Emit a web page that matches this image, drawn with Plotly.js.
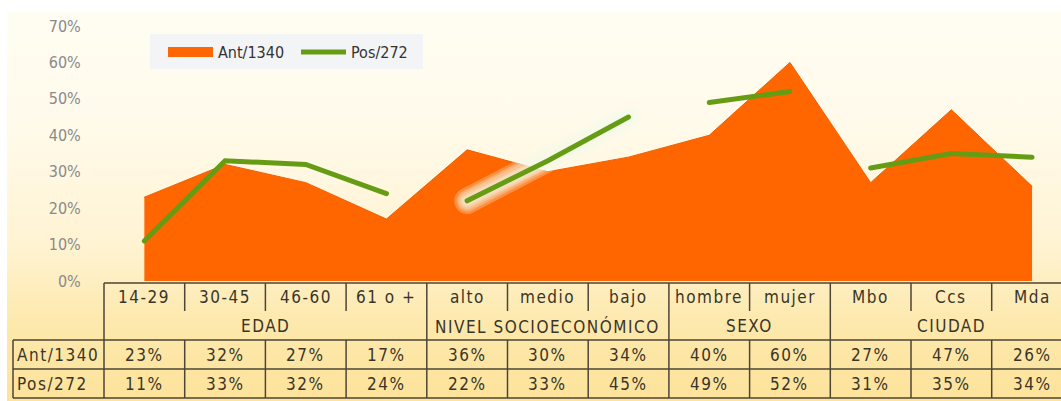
<!DOCTYPE html>
<html>
<head>
<meta charset="utf-8">
<script src="https://cdn.plot.ly/plotly-3.0.1.min.js"></script>
<style>
  html, body { margin: 0; padding: 0; background: #ffffff; }
  #wrap { position: relative; width: 1061px; height: 401px; overflow: hidden; }
  #bg { position: absolute; left: 7px; top: 12px; right: 0; bottom: 0;
        background: linear-gradient(to bottom, #fffdf3 0%, #fffaea 30%, #fff3d2 60%, #fde9ad 80%, #fde39b 100%); }
  #chart { position: absolute; left: 0; top: 0; width: 1061px; height: 401px; }
  .annotation-text { letter-spacing: 1.5px; }
  .scatterlayer .js-line { stroke-linecap: round; }
</style>
</head>
<body>
<div id="wrap"><div id="bg"></div><div id="chart"></div></div>
<script>
// ---- data ----
const categories = ["14-29", "30-45", "46-60", "61 o +", "alto", "medio", "bajo", "hombre", "mujer", "Mbo", "Ccs", "Mda"];
const groupNames = ["EDAD", "NIVEL SOCIOECONÓMICO", "SEXO", "CIUDAD"];
const groupSizes = [4, 3, 2, 3];
const seriesNames = ["Ant/1340", "Pos/272"];
const antValues = [23, 32, 27, 17, 36, 30, 34, 40, 60, 27, 47, 26];
const posValues = [11, 33, 32, 24, 22, 33, 45, 49, 52, 31, 35, 34];
const yTicks = [0, 10, 20, 30, 40, 50, 60, 70];

// ---- layout geometry ----
const W = 1061, H = 401;
const mL = 104, mR = 0, mT = 26, mB = 120;
const plotW = W - mL - mR, plotH = H - mT - mB;
const colPx = 80.7;
const xr0 = -0.5, xr1 = -0.5 + plotW / colPx;
const FONT = "'Liberation Sans Narrow', 'Arial Narrow', 'DejaVu Sans Condensed', sans-serif";
const textColor = '#3a3528';
const gridColor = '#4d4535';
const antColor = '#ff6600';
const posColor = '#659c14';

function py(p) { return (H - mB - p) / plotH; }           // pixel y -> paper y
function pxFromData(v) { return (v - xr0) / (xr1 - xr0); } // data x -> paper x
function pxFromPix(p) { return (p - mL) / plotW; }        // pixel x -> paper x

const xs = categories.map((c, i) => i);

// group membership
const groupStart = [];
let acc = 0;
groupSizes.forEach(s => { groupStart.push(acc); acc += s; });

// green series broken between groups
const posX = [], posY = [];
groupSizes.forEach((s, g) => {
  for (let k = 0; k < s; k++) { posX.push(groupStart[g] + k); posY.push(posValues[groupStart[g] + k]); }
  if (g < groupSizes.length - 1) { posX.push(null); posY.push(null); }
});
// glow on the socio-economic segment
const glowX = [], glowY = [];
for (let k = 0; k < groupSizes[1]; k++) { glowX.push(groupStart[1] + k); glowY.push(posValues[groupStart[1] + k]); }

const traces = [
  { type: 'scatter', mode: 'lines', x: xs, y: antValues, name: seriesNames[0], showlegend: false,
    legendgroup: 'ant', fill: 'tozeroy', fillcolor: antColor, line: { color: '#ee5f00', width: 1 }, hoverinfo: 'skip' },
  // legend entry for the area (wide swatch)
  { type: 'scatter', mode: 'lines', x: [null], y: [null], name: seriesNames[0], legendgroup: 'ant',
    line: { color: antColor, width: 10 }, hoverinfo: 'skip' }
];
[26, 21, 17, 13, 10].forEach(w => {
  traces.push({ type: 'scatter', mode: 'lines', x: glowX, y: glowY, showlegend: false, hoverinfo: 'skip',
    line: { color: 'rgba(244,250,234,0.28)', width: w } });
});
traces.push({ type: 'scatter', mode: 'lines', x: posX, y: posY, name: seriesNames[1], connectgaps: false,
  line: { color: posColor, width: 5 }, hoverinfo: 'skip' });

// ---- table ----
const shapes = [];
const annotations = [];
function hline(x0p, x1p, yp) {
  shapes.push({ type: 'line', xref: 'paper', yref: 'paper', x0: x0p, x1: x1p, y0: py(yp), y1: py(yp),
    line: { color: gridColor, width: 1.5 } });
}
function vline(xp, y0p, y1p) {
  shapes.push({ type: 'line', xref: 'paper', yref: 'paper', x0: xp, x1: xp, y0: py(y0p), y1: py(y1p),
    line: { color: gridColor, width: 1.5 } });
}
// legend background box
shapes.push({ type: 'rect', xref: 'paper', yref: 'paper', x0: pxFromPix(150), x1: pxFromPix(423),
  y0: py(69), y1: py(34), fillcolor: '#f3f4f6', line: { width: 0 }, layer: 'below' });

const rowCatTop = 283, rowCatDivBot = 311, rowGrpBot = 340, rowSep = 369, rowBot = 398;
const leftColX = 13;
hline(0, 1, rowCatTop);
hline(pxFromPix(leftColX), 1, rowGrpBot);
hline(pxFromPix(leftColX), 1, rowSep);
hline(pxFromPix(leftColX), 1, rowBot);
vline(0, rowCatTop, rowBot);
vline(pxFromPix(leftColX), rowGrpBot, rowBot);
const groupBoundaries = groupStart.slice(1);
for (let i = 1; i < categories.length; i++) {
  const xp = pxFromData(i - 0.5);
  if (groupBoundaries.includes(i)) {
    vline(xp, rowCatTop, rowBot);
  } else {
    vline(xp, rowCatTop, rowCatDivBot);
    vline(xp, rowGrpBot, rowBot);
  }
}
const tfont = { family: FONT, size: 17, color: textColor };
categories.forEach((c, i) => {
  annotations.push({ xref: 'x', yref: 'paper', x: i, y: py(297), text: c, showarrow: false,
    xanchor: 'center', yanchor: 'middle', font: tfont });
  annotations.push({ xref: 'x', yref: 'paper', x: i, y: py(355), text: antValues[i] + '%', showarrow: false,
    xanchor: 'center', yanchor: 'middle', font: tfont });
  annotations.push({ xref: 'x', yref: 'paper', x: i, y: py(384), text: posValues[i] + '%', showarrow: false,
    xanchor: 'center', yanchor: 'middle', font: tfont });
});
groupNames.forEach((g, k) => {
  const center = groupStart[k] + (groupSizes[k] - 1) / 2;
  annotations.push({ xref: 'x', yref: 'paper', x: center, y: py(326), text: g, showarrow: false,
    xanchor: 'center', yanchor: 'middle', font: tfont });
});
seriesNames.forEach((s, k) => {
  annotations.push({ xref: 'paper', yref: 'paper', x: pxFromPix(15), y: py(k === 0 ? 355 : 384), text: s,
    showarrow: false, xanchor: 'left', yanchor: 'middle', font: tfont });
});

const layout = {
  width: W, height: H,
  margin: { l: mL, r: mR, t: mT, b: mB, pad: 0 },
  paper_bgcolor: 'rgba(0,0,0,0)', plot_bgcolor: 'rgba(0,0,0,0)',
  showlegend: true,
  legend: { orientation: 'h', x: pxFromPix(163), y: py(35), xanchor: 'left', yanchor: 'top',
    bgcolor: 'rgba(0,0,0,0)', borderwidth: 0, font: { family: FONT, size: 16, color: '#333333' },
    itemwidth: 45, entrywidth: 73, entrywidthmode: 'pixels', traceorder: 'normal' },
  xaxis: { range: [xr0, xr1], showticklabels: false, showgrid: false, zeroline: false, showline: false, ticks: '', fixedrange: true },
  yaxis: { range: [0, 70], tickvals: yTicks, ticktext: yTicks.map(v => v + '%'), showgrid: false, zeroline: false, showline: false,
    ticks: 'outside', ticklen: 19, tickcolor: 'rgba(0,0,0,0)',
    tickfont: { family: FONT, size: 16, color: '#8a8a8a' }, fixedrange: true },
  shapes: shapes,
  annotations: annotations
};

Plotly.newPlot('chart', traces, layout, { displayModeBar: false, staticPlot: true });
</script>
</body>
</html>
